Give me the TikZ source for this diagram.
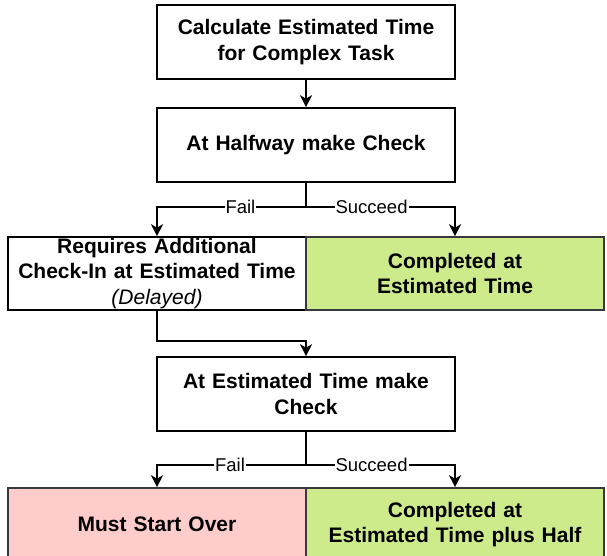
\documentclass[tikz,border=0pt]{standalone}
\usepackage{fontspec}
\setmainfont{Liberation Sans}
\usetikzlibrary{arrows.meta}
\definecolor{okgreen}{HTML}{CDEB8B}
\definecolor{badred}{HTML}{FFCCCC}
\definecolor{edgegray}{HTML}{36393D}
\begin{document}
\begin{tikzpicture}[x=1pt,y=-1pt,
  box/.style={draw=black, line width=1.6pt, minimum width=298pt, minimum height=74pt,
    inner sep=0pt, text width=292pt, align=center,
    font=\fontsize{21}{25.5}\selectfont\bfseries},
  greenbox/.style={box, fill=okgreen, draw=edgegray},
  redbox/.style={box, fill=badred, draw=edgegray},
  arr/.style={-{Stealth[length=12pt,width=12pt,inset=3.5pt]}, line width=1.6pt},
  lbl/.style={fill=white, inner sep=1pt, font=\fontsize{18.5}{22}\selectfont}]
\useasboundingbox (0,0) rectangle (607,556);
\clip (0,0) rectangle (607,556);

\node[box] (b1) at (306,42) {Calculate Estimated Time\\for Complex Task};
\node[box] (b2) at (306,145) {At Halfway make Check};
\node[box, minimum height=73pt] (r3l) at (157,273.5) {Requires Additional\\Check-In at Estimated Time\\{\mdseries\itshape (Delayed)}};
\node[greenbox, minimum height=73pt] (r3r) at (455,273.5) {Completed at\\Estimated Time};
\node[box] (b3) at (306,394) {At Estimated Time make\\Check};
\node[redbox, minimum height=73pt] (r5l) at (157,524.5) {Must Start Over};
\node[greenbox, minimum height=73pt] (r5r) at (455,524.5) {Completed at\\Estimated Time plus Half};

\coordinate (j1) at (306,207);
\coordinate (j2) at (306,465);

\draw[arr] (b1.south) -- (b2.north);
\draw[arr] (b2.south) -- (j1) -- node[lbl, pos=0.44]{Fail} (j1 -| r3l.north) -- (r3l.north);
\draw[arr] (b2.south) -- (j1) -- node[lbl, pos=0.44]{Succeed} (j1 -| r3r.north) -- (r3r.north);
\draw[arr] (r3l.south) -- ++(0,30) -| (b3.north);
\draw[arr] (b3.south) -- (j2) -- node[lbl, pos=0.51]{Fail} (j2 -| r5l.north) -- (r5l.north);
\draw[arr] (b3.south) -- (j2) -- node[lbl, pos=0.44]{Succeed} (j2 -| r5r.north) -- (r5r.north);
\end{tikzpicture}
\end{document}
